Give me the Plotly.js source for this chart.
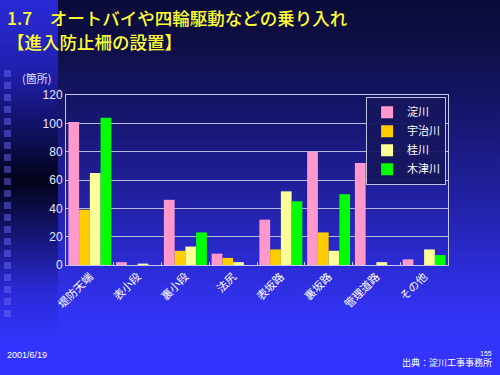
<!DOCTYPE html>
<html>
<head>
<meta charset="utf-8">
<script src="https://cdn.plot.ly/plotly-3.0.1.min.js"></script>
<style>
  html, body { margin: 0; padding: 0; }
  #wrap {
    position: relative; width: 500px; height: 375px; overflow: hidden;
    background: linear-gradient(to bottom, #0b0b38 0%, #10104c 15%, #181878 35%, #2222a8 55%, #2c2cd8 72%, #3333f6 85%, #3434ff 100%);
  }
  #strip {
    position: absolute; left: 0; top: 0; width: 58px; height: 375px;
    background: linear-gradient(to bottom, #2a2ad6 0%, #2020b0 18%, #101060 35%, #02021a 48%, #141470 62%, #2a2ad8 78%, #3434ff 92%);
  }
  #squares {
    position: absolute; left: 4px; top: 70px; width: 7px; height: 252px;
    background: repeating-linear-gradient(to bottom, rgba(110,110,255,0.45) 0px, rgba(110,110,255,0.45) 7px, rgba(0,0,0,0) 7px, rgba(0,0,0,0) 12px);
  }
  #chart { position: absolute; left: 0; top: 0; width: 500px; height: 375px; }
</style>
</head>
<body>
<div id="wrap">
  <div id="strip"></div>
  <div id="squares"></div>
  <div id="chart"></div>
</div>
<script>
const categories = ["堤防天端", "表小段", "裏小段", "法尻", "表坂路", "裏坂路", "管理道路", "その他"];
const seriesNames = ["淀川", "宇治川", "桂川", "木津川"];
const yodogawa = [101, 2, 46, 8, 32, 80, 72, 4];
const ujigawa  = [39, 0, 10, 5, 11, 23, 0, 0];
const katsuragawa = [65, 1, 13, 2, 52, 10, 2, 11];
const kizugawa = [104, 0, 23, 0, 45, 50, 0, 7];
const yTicks = [0, 20, 40, 60, 80, 100, 120];
const titleLines = ["1.7　オートバイや四輪駆動などの乗り入れ", "【進入防止柵の設置】"];

const colors = ["#ff99cc", "#ffcc00", "#ffff99", "#00ff00"];
const values = [yodogawa, ujigawa, katsuragawa, kizugawa];

const traces = seriesNames.map((name, i) => ({
  type: "bar",
  name: name,
  x: categories,
  y: values[i],
  marker: { color: colors[i], line: { width: 0 } },
  hoverinfo: "none"
}));

const fontFam = "'Noto Sans CJK JP', 'Liberation Sans', sans-serif";

const layout = {
  width: 500, height: 375,
  margin: { l: 66, r: 52, t: 95, b: 110 },
  paper_bgcolor: "rgba(0,0,0,0)",
  plot_bgcolor: "rgba(0,0,0,0)",
  font: { family: fontFam, color: "#ffffff", size: 12 },
  barmode: "group",
  bargap: 0.1,
  bargroupgap: 0,
  showlegend: true,
  xaxis: {
    type: "category",
    tickangle: -45,
    tickfont: { family: fontFam, size: 11, color: "#ffffff" },
    showline: true, linecolor: "#c8c8e8", linewidth: 1, mirror: true,
    showgrid: false,
    ticks: "inside", tickson: "boundaries", ticklen: 3, tickcolor: "#c8c8e8",
    fixedrange: true
  },
  yaxis: {
    range: [0, 120],
    tickvals: yTicks,
    ticktext: yTicks.map(String),
    tickfont: { family: "'Liberation Sans', sans-serif", size: 12, color: "#e8e8ff" },
    showgrid: true, gridcolor: "#b8b8e0", gridwidth: 1,
    showline: true, linecolor: "#c8c8e8", linewidth: 1, mirror: true,
    zeroline: false,
    ticks: "", ticklen: 0,
    fixedrange: true
  },
  legend: {
    x: 0.995, y: 0.99, xanchor: "right", yanchor: "top",
    bgcolor: "rgba(22,22,95,0.95)",
    bordercolor: "#c0c0d8", borderwidth: 1,
    font: { family: fontFam, size: 11, color: "#ffffff" },
    itemwidth: 30,
    tracegroupgap: 0
  },
  annotations: [
    { text: titleLines[0], xref: "paper", yref: "paper", x: -0.16, y: 1.453, xanchor: "left", yanchor: "middle",
      showarrow: false, font: { family: fontFam, size: 17.5, color: "#ffff33", weight: 500 } },
    { text: titleLines[1], xref: "paper", yref: "paper", x: -0.16, y: 1.312, xanchor: "left", yanchor: "middle",
      showarrow: false, font: { family: fontFam, size: 17.5, color: "#ffff33", weight: 500 } },
    { text: "(箇所)", xref: "paper", yref: "paper", x: -0.078, y: 1.1, xanchor: "center", yanchor: "middle",
      showarrow: false, font: { family: fontFam, size: 11, color: "#e0e0ff" } },
    { text: "2001/6/19", xref: "paper", yref: "paper", x: -0.16, y: -0.53, xanchor: "left", yanchor: "middle",
      showarrow: false, font: { family: "'Liberation Sans', sans-serif", size: 9, color: "#ffffff" } },
    { text: "出典：淀川工事事務所", xref: "paper", yref: "paper", x: 1.12, y: -0.575, xanchor: "right", yanchor: "middle",
      showarrow: false, font: { family: fontFam, size: 9, color: "#ffffff" } },
    { text: "155", xref: "paper", yref: "paper", x: 1.12, y: -0.52, xanchor: "right", yanchor: "middle",
      showarrow: false, font: { family: "'Liberation Sans', sans-serif", size: 7, color: "#ffffff" } }
  ]
};

Plotly.newPlot("chart", traces, layout, { displayModeBar: false, staticPlot: true });
</script>
</body>
</html>
